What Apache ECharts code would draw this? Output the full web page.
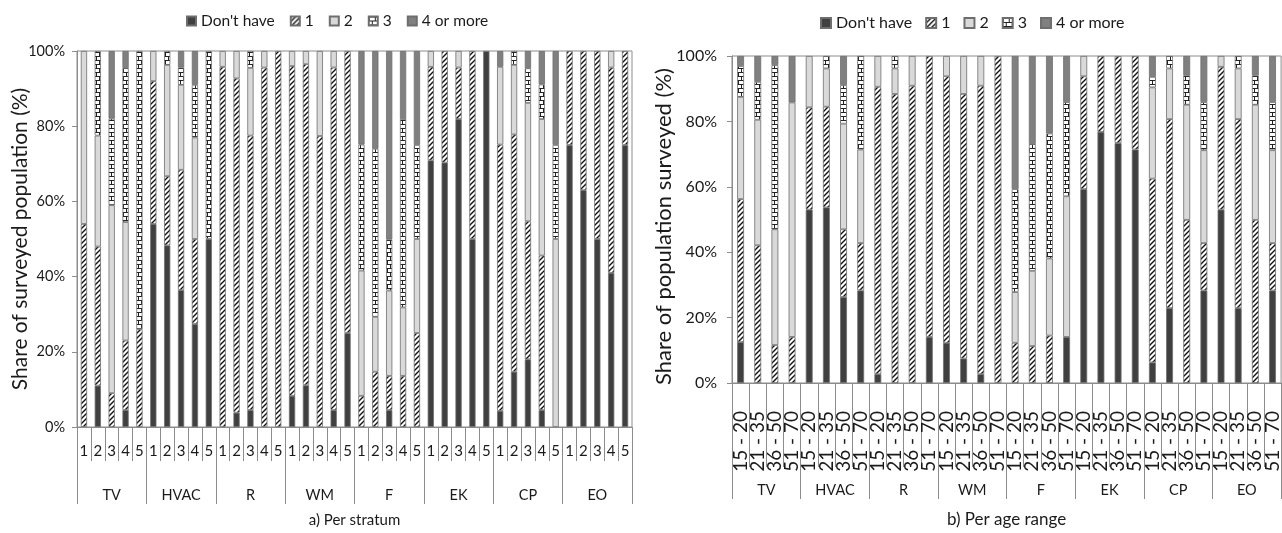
<!DOCTYPE html>
<html>
<head>
<meta charset="utf-8">
<script src="https://cdn.jsdelivr.net/npm/echarts@6/dist/echarts.min.js"></script>
<style>
html,body{margin:0;padding:0;background:#fff;}
#c{width:1282px;height:533px;}
</style>
</head>
<body>
<div id="c"></div>
<script>
// ---- data ----
const strata = ['1','2','3','4','5'];
const appliances = ['TV','HVAC','R','WM','F','EK','CP','EO'];
const ageRanges = ['15 - 20','21 - 35','36 - 50','51 - 70'];
const seriesNames = ["Don't have",'1','2','3','4 or more'];
const yTicks = [0,20,40,60,80,100];

// a) Per stratum (appliance x stratum 1..5)
const stratumDontHave = [0,11,0,4.5,0, 54,48.3,36.4,27.4,50, 0,3.8,4.5,0,0, 8.3,11.1,0,4.5,25, 0,0,4.5,0,0, 70.9,70.3,81.9,50,100, 4.3,14.7,18,4.5,0, 75,63,50,41,75];
const stratumOne = [54,37,9,18.5,26, 38,18.4,32,22.6,0, 95.8,88.9,73,95.6,100, 87.7,85.4,77.4,91.1,75, 8.3,14.7,9.1,13.6,25, 24.9,29.7,13.7,50,0, 70.8,63.1,36.7,41.1,0, 25,37,50,54.6,25];
const stratumTwo = [46,29.5,50,31.5,0, 8,29.6,22.6,27,0, 4.2,7.3,18,4.4,0, 4,3.5,22.6,4.4,0, 33.3,14.6,22.7,18.2,25, 4.2,0,4.4,0,0, 20.7,18.5,31.5,36.3,50, 0,0,0,4.4,0];
const stratumThree = [0,22.5,23,41,74, 0,3.7,4.6,14,50, 0,0,4.5,0,0, 0,0,0,0,0, 33.5,44.7,13.6,50.1,25, 0,0,0,0,0, 0,3.7,9.2,9.2,25, 0,0,0,0,0];
const stratumFourPlus = [0,0,18,4.5,0, 0,0,4.4,9,0, 0,0,0,0,0, 0,0,0,0,0, 24.9,26,50.1,18.1,25, 0,0,0,0,0, 4.2,0,4.6,8.9,25, 0,0,0,0,0];

// b) Per age range (appliance x age range)
const ageDontHave = [12.5,0,0,0, 53,53.7,26.3,28.3, 2.7,0,0,14.1, 12.3,7.5,2.7,0, 0,0,0,14.1, 59.3,76.8,73.4,71.4, 6.3,22.9,0,28.3, 53,22.9,0,28.3];
const ageOne = [43.75,42.1,11.6,14.1, 31.3,30.8,20.7,14.5, 87.9,88.4,90.9,85.9, 81.5,80.9,88.2,100, 12.3,11.3,14.5,0, 34.5,23.2,26.6,28.6, 56.2,57.8,49.9,14.5, 43.7,57.8,49.9,14.5];
const ageTwo = [31.25,38.4,35.4,71.7, 15.7,11.7,32.3,28.6, 9.4,7.8,9.1,0, 6.2,11.6,9.1,0, 15.5,23,23.6,43, 6.2,0,0,0, 27.9,15.5,35.2,28.4, 3.3,15.5,35.2,28.4];
const ageThree = [9.4,11.6,50.2,0, 0,3.8,11.8,28.6, 0,3.8,0,0, 0,0,0,0, 31.5,38.8,38.2,28.8, 0,0,0,0, 3.2,3.8,9,14.7, 0,3.8,9,14.7];
const ageFourPlus = [3.1,7.9,2.8,14.2, 0,0,8.9,0, 0,0,0,0, 0,0,0,0, 40.7,26.9,23.7,14.1, 0,0,0,0, 6.4,0,5.9,14.1, 0,0,5.9,14.1];

// ---- styling ----
const FONT = "Lato,sans-serif";
const AXIS = '#8c8c8c';
const TEXT = '#1a1a1a';

function hatchPattern(){
  const c=document.createElement('canvas');c.width=5;c.height=5;
  const g=c.getContext('2d');g.fillStyle='#fff';g.fillRect(0,0,5,5);
  g.strokeStyle='#111';g.lineWidth=1.4;g.beginPath();
  g.moveTo(-1,6);g.lineTo(6,-1);g.moveTo(-1,1);g.lineTo(1,-1);g.moveTo(4,6);g.lineTo(6,4);
  g.stroke();return {image:c,repeat:'repeat'};
}
function brickPattern(){
  const c=document.createElement('canvas');c.width=6;c.height=8;
  const g=c.getContext('2d');g.fillStyle='#fff';g.fillRect(0,0,6,8);
  g.strokeStyle='#222';g.lineWidth=1;g.beginPath();
  g.moveTo(0,0.5);g.lineTo(6,0.5);g.moveTo(0,4.5);g.lineTo(6,4.5);
  g.moveTo(0.5,0);g.lineTo(0.5,4);g.moveTo(3.5,4);g.lineTo(3.5,8);
  g.stroke();return {image:c,repeat:'repeat'};
}
const fills = ['#404040', hatchPattern(), '#d9d9d9', brickPattern(), '#808080'];

const leftCats = [];
appliances.forEach(a => strata.forEach(s => leftCats.push(a + '|' + s)));
const rightCats = [];
appliances.forEach(a => ageRanges.forEach(r => rightCats.push(a + '|' + r)));

const leftData = [stratumDontHave, stratumOne, stratumTwo, stratumThree, stratumFourPlus];
const rightData = [ageDontHave, ageOne, ageTwo, ageThree, ageFourPlus];

function bars(dataSets, xi, yi, stack, width){
  return dataSets.map((d,i)=>({
    type:'bar', name:seriesNames[i], stack:stack, xAxisIndex:xi, yAxisIndex:yi,
    barWidth:width, animation:false,
    data:d.map(v=> v===0 ? '-' : v),
    itemStyle:{color:fills[i], borderColor:'#6e6e6e', borderWidth:0.8}
  }));
}

function yAxis(grid, size, name, gap, nameSize, margin, pad){
  return {
    type:'value', gridIndex:grid, min:yTicks[0], max:yTicks[yTicks.length-1], interval:20,
    axisLine:{show:true, lineStyle:{color:AXIS}},
    axisTick:{show:true, length:5, lineStyle:{color:AXIS}},
    splitLine:{show:false},
    axisLabel:{formatter:'{value}%', fontFamily:FONT, fontSize:size, color:TEXT, margin:margin},
    name:name, nameLocation:'middle', nameGap:gap, nameMoveOverlap:false,
    nameTextStyle:{fontFamily:FONT, fontSize:nameSize, color:TEXT, padding:pad}
  };
}

const option = {
  animation:false,
  backgroundColor:'#fff',
  legend:[
    {left:181, top:8, icon:'rect', itemWidth:9, itemHeight:9, itemGap:15, data:seriesNames,
     textStyle:{fontFamily:FONT, fontSize:15.5, color:TEXT}, selectedMode:false},
    {left:815, top:10, icon:'rect', itemWidth:10, itemHeight:10, itemGap:13, data:seriesNames,
     textStyle:{fontFamily:FONT, fontSize:16, color:TEXT}, selectedMode:false}
  ],
  grid:[
    {left:77, top:51, width:555, height:376, show:true, borderColor:AXIS, borderWidth:1},
    {left:732, top:56, width:550, height:330, show:true, borderColor:AXIS, borderWidth:1}
  ],
  xAxis:[
    {type:'category', gridIndex:0, data:leftCats,
     axisLine:{show:true, lineStyle:{color:AXIS}},
     axisTick:{show:true, interval:0, length:34, lineStyle:{color:AXIS}},
     axisLabel:{interval:0, margin:17, fontFamily:FONT, fontSize:15, color:TEXT,
       formatter:v=>v.split('|')[1]}},
    {type:'category', gridIndex:0, position:'bottom', data:appliances,
     axisLine:{show:false},
     axisTick:{show:true, interval:0, length:77, lineStyle:{color:AXIS}},
     axisLabel:{interval:0, margin:61, fontFamily:FONT, fontSize:14.5, color:TEXT},
     name:'a) Per stratum', nameLocation:'middle', nameGap:86, nameMoveOverlap:false,
     nameTextStyle:{fontFamily:FONT, fontSize:15, color:TEXT}},
    {type:'category', gridIndex:1, data:rightCats,
     axisLine:{show:true, lineStyle:{color:AXIS}},
     axisTick:{show:true, interval:0, length:84, lineStyle:{color:AXIS}},
     axisLabel:{interval:0, rotate:90, margin:28, fontFamily:FONT, fontSize:19, color:TEXT,
       formatter:v=>v.split('|')[1]}},
    {type:'category', gridIndex:1, position:'bottom', data:appliances,
     axisLine:{show:false},
     axisTick:{show:true, interval:0, length:116, lineStyle:{color:AXIS}},
     axisLabel:{interval:0, margin:100, fontFamily:FONT, fontSize:14.5, color:TEXT},
     name:'b) Per age range', nameLocation:'middle', nameGap:128, nameMoveOverlap:false,
     nameTextStyle:{fontFamily:FONT, fontSize:17, color:TEXT}}
  ],
  yAxis:[
    yAxis(0, 14.5, 'Share of surveyed population (%)', 46, 21, 12, 0),
    yAxis(1, 16, 'Share of population surveyed (%)', 57, 22, 15, [0,14,0,0])
  ],
  series:[].concat(bars(leftData, 0, 0, 'a', '45%'), bars(rightData, 2, 1, 'b', '40%'))
};

const chart = echarts.init(document.getElementById('c'), null, {renderer:'canvas'});
chart.setOption(option);
</script>
</body>
</html>
